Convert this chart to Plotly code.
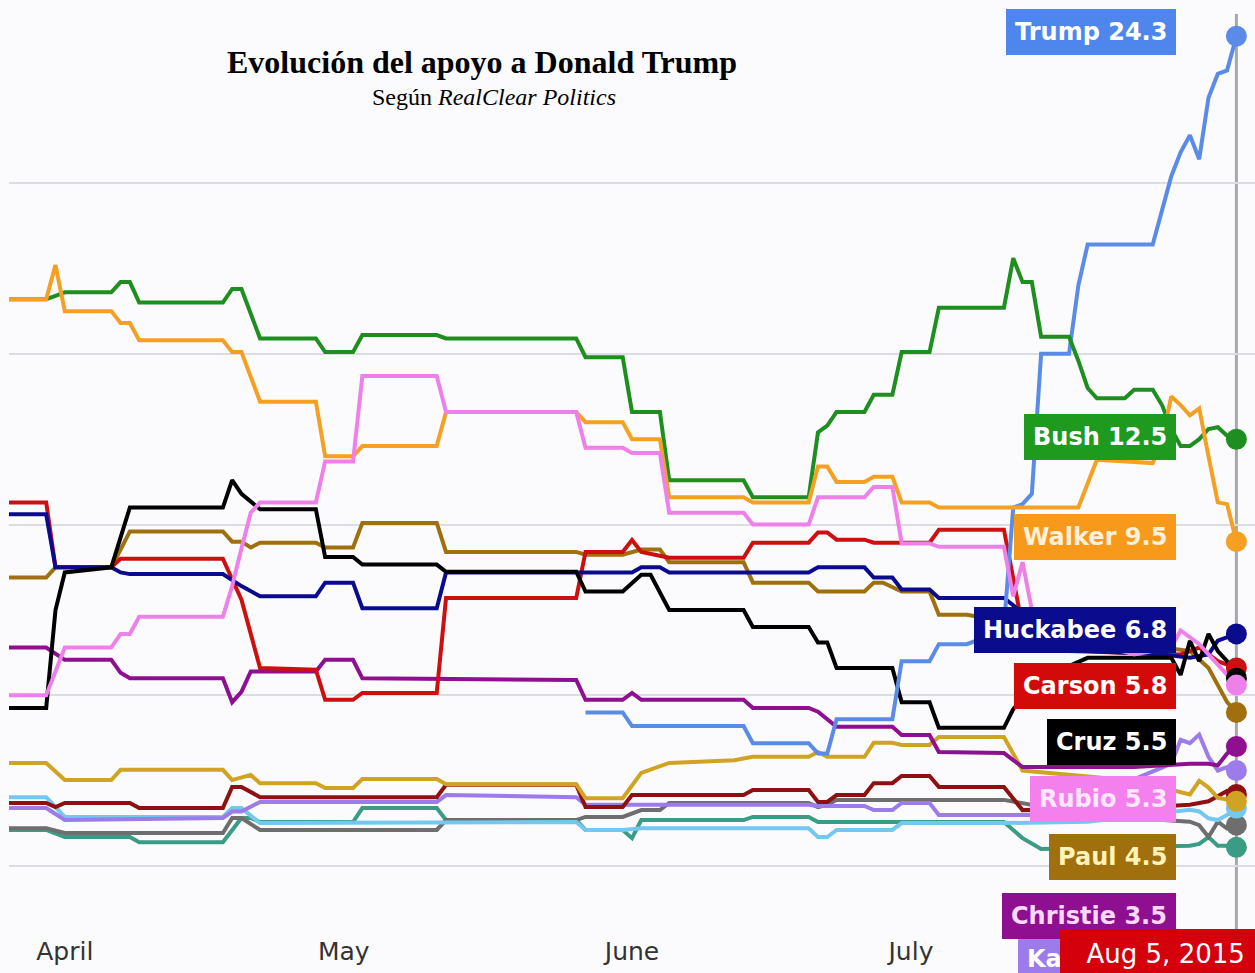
import plotly.graph_objects as go
import pandas as pd

# ---------------- data (RealClear Politics average, %) ----------------
trump_dates = ["2015-05-27","2015-05-31","2015-06-01","2015-06-13","2015-06-14","2015-06-20","2015-06-21","2015-06-22",
               "2015-06-23","2015-06-29","2015-06-30","2015-07-03","2015-07-04","2015-07-07","2015-07-10","2015-07-11",
               "2015-07-12","2015-07-13","2015-07-14","2015-07-15","2015-07-18","2015-07-19","2015-07-20","2015-07-27",
               "2015-07-28","2015-07-29","2015-07-30","2015-07-31","2015-08-01","2015-08-02","2015-08-03","2015-08-04",
               "2015-08-05"]
trump_values = [4.5,4.5,4.1,4.1,3.6,3.6,3.3,3.3,4.3,4.3,6.0,6.0,6.5,6.5,6.8,7.0,10.5,10.6,10.9,15.0,15.0,17.0,18.2,18.2,
                19.2,20.2,20.9,21.4,20.7,22.5,23.2,23.3,24.3]

bush_dates = ["2015-03-26","2015-03-30","2015-03-31","2015-04-01","2015-04-06","2015-04-07","2015-04-08","2015-04-09",
              "2015-04-18","2015-04-19","2015-04-20","2015-04-21","2015-04-22","2015-04-28","2015-04-29","2015-05-02",
              "2015-05-03","2015-05-11","2015-05-12","2015-05-26","2015-05-27","2015-05-31","2015-06-01","2015-06-04",
              "2015-06-05","2015-06-13","2015-06-14","2015-06-20","2015-06-21","2015-06-22","2015-06-23","2015-06-26",
              "2015-06-27","2015-06-29","2015-06-30","2015-07-03","2015-07-04","2015-07-11","2015-07-12","2015-07-13",
              "2015-07-14","2015-07-15","2015-07-18","2015-07-19","2015-07-20","2015-07-21","2015-07-24","2015-07-25",
              "2015-07-27","2015-07-28","2015-07-29","2015-07-30","2015-07-31","2015-08-01","2015-08-02","2015-08-03",
              "2015-08-04","2015-08-05"]
bush_values = [16.6,16.6,16.7,16.8,16.8,17.1,17.1,16.5,16.5,16.9,16.9,16.2,15.45,15.45,15.05,15.05,15.55,15.55,15.45,
               15.45,14.9,14.9,13.3,13.3,11.3,11.3,10.8,10.8,12.7,12.9,13.3,13.3,13.8,13.8,15.05,15.05,16.35,16.35,
               17.8,17.1,17.1,15.5,15.5,14.8,14.0,13.7,13.7,13.95,13.95,13.5,12.8,12.3,12.3,12.5,12.8,12.85,12.6,12.5]

walker_dates = ["2015-03-26","2015-03-30","2015-03-31","2015-04-01","2015-04-06","2015-04-07","2015-04-08","2015-04-09",
                "2015-04-18","2015-04-19","2015-04-20","2015-04-21","2015-04-22","2015-04-28","2015-04-29","2015-05-02",
                "2015-05-03","2015-05-11","2015-05-12","2015-05-26","2015-05-27","2015-05-31","2015-06-01","2015-06-04",
                "2015-06-05","2015-06-13","2015-06-14","2015-06-20","2015-06-21","2015-06-22","2015-06-23","2015-06-26",
                "2015-06-27","2015-06-29","2015-06-30","2015-07-03","2015-07-04","2015-07-19","2015-07-20","2015-07-21",
                "2015-07-27","2015-07-28","2015-07-29","2015-07-30","2015-07-31","2015-08-01","2015-08-02","2015-08-03",
                "2015-08-04","2015-08-05"]
walker_values = [16.6,16.6,17.6,16.25,16.25,15.9,15.9,15.4,15.4,15.05,15.05,14.3,13.6,13.6,12.0,12.0,12.3,12.3,13.3,13.3,
                 13.0,13.0,12.5,12.5,10.8,10.8,10.65,10.65,11.7,11.7,11.25,11.25,11.4,11.4,10.65,10.65,10.5,10.5,11.2,
                 11.9,11.8,12.5,13.75,13.5,13.2,13.4,12.0,10.65,10.6,9.5]

huckabee_dates = ["2015-03-26","2015-03-30","2015-03-31","2015-04-06","2015-04-07","2015-04-08","2015-04-18","2015-04-20",
                  "2015-04-22","2015-04-28","2015-04-29","2015-05-02","2015-05-03","2015-05-11","2015-05-12","2015-06-01",
                  "2015-06-02","2015-06-04","2015-06-05","2015-06-20","2015-06-21","2015-06-26","2015-06-27","2015-06-29",
                  "2015-06-30","2015-07-03","2015-07-04","2015-07-11","2015-07-15","2015-07-20","2015-07-28","2015-07-31",
                  "2015-08-02","2015-08-03","2015-08-05"]
huckabee_values = [10.3,10.3,8.75,8.75,8.6,8.55,8.55,8.2,7.9,7.9,8.3,8.3,7.55,7.55,8.6,8.6,8.75,8.75,8.6,8.6,8.75,8.75,
                   8.45,8.45,8.1,8.1,7.85,7.85,7.0,6.3,6.2,6.1,6.2,6.6,6.8]

carson_dates = ["2015-03-26","2015-03-30","2015-03-31","2015-04-06","2015-04-07","2015-04-18","2015-04-19","2015-04-20",
                "2015-04-21","2015-04-22","2015-04-28","2015-04-29","2015-05-02","2015-05-03","2015-05-11","2015-05-12",
                "2015-05-26","2015-05-27","2015-05-31","2015-06-01","2015-06-02","2015-06-04","2015-06-05","2015-06-13",
                "2015-06-14","2015-06-20","2015-06-21","2015-06-22","2015-06-23","2015-06-26","2015-06-27","2015-07-03",
                "2015-07-04","2015-07-11","2015-07-13","2015-07-18","2015-07-30","2015-08-01","2015-08-03","2015-08-05"]
carson_values = [10.65,10.65,8.75,8.75,9.0,9.0,8.4,7.8,6.8,5.8,5.75,4.87,4.87,5.07,5.07,7.85,7.85,9.2,9.2,9.55,9.2,9.1,
                 9.03,9.03,9.47,9.47,9.77,9.77,9.56,9.56,9.47,9.47,9.85,9.85,7.0,6.3,6.2,6.4,6.0,5.8]

cruz_dates = ["2015-03-26","2015-03-30","2015-03-31","2015-04-01","2015-04-06","2015-04-07","2015-04-08","2015-04-18",
              "2015-04-19","2015-04-20","2015-04-22","2015-04-28","2015-04-29","2015-05-02","2015-05-03","2015-05-11",
              "2015-05-12","2015-05-26","2015-05-27","2015-05-31","2015-06-02","2015-06-03","2015-06-05","2015-06-13",
              "2015-06-14","2015-06-20","2015-06-21","2015-06-22","2015-06-23","2015-06-29","2015-06-30","2015-07-03",
              "2015-07-04","2015-07-11","2015-07-12","2015-07-15","2015-07-20","2015-07-29","2015-07-30","2015-07-31",
              "2015-08-01","2015-08-02","2015-08-03","2015-08-04","2015-08-05"]
cruz_values = [4.63,4.63,7.5,8.6,8.75,9.6,10.5,10.5,11.3,10.9,10.45,10.45,9.05,9.05,8.83,8.83,8.62,8.62,8.04,8.04,8.53,
               8.53,7.5,7.5,7.0,7.0,6.55,6.55,5.8,5.8,4.8,4.8,4.05,4.05,4.6,5.5,6.1,6.1,5.6,6.6,6.0,6.8,6.3,6.0,5.5]

rubio_dates = ["2015-03-26","2015-03-30","2015-03-31","2015-04-01","2015-04-06","2015-04-07","2015-04-08","2015-04-09",
               "2015-04-18","2015-04-19","2015-04-20","2015-04-21","2015-04-22","2015-04-28","2015-04-29","2015-05-02",
               "2015-05-03","2015-05-11","2015-05-12","2015-05-26","2015-05-27","2015-05-31","2015-06-01","2015-06-04",
               "2015-06-05","2015-06-13","2015-06-14","2015-06-20","2015-06-21","2015-06-26","2015-06-27","2015-06-29",
               "2015-06-30","2015-07-03","2015-07-04","2015-07-11","2015-07-12","2015-07-13","2015-07-14","2015-07-17",
               "2015-07-25","2015-07-29","2015-07-30","2015-08-01","2015-08-03","2015-08-05"]
rubio_values = [5.0,5.0,5.7,6.4,6.4,6.8,6.8,7.3,7.3,8.2,9.3,10.35,10.65,10.65,11.85,11.85,14.35,14.35,13.3,13.3,12.25,
                12.25,12.1,12.1,10.35,10.35,10.0,10.0,10.8,10.8,11.1,11.1,9.45,9.45,9.35,9.35,7.9,8.9,7.5,6.8,6.2,6.4,
                6.9,6.5,5.9,5.3]

paul_dates = ["2015-03-26","2015-03-30","2015-03-31","2015-04-06","2015-04-07","2015-04-08","2015-04-18","2015-04-19",
              "2015-04-20","2015-04-21","2015-04-22","2015-04-28","2015-04-29","2015-05-02","2015-05-03","2015-05-11",
              "2015-05-12","2015-05-26","2015-05-27","2015-05-31","2015-06-02","2015-06-04","2015-06-05","2015-06-13",
              "2015-06-14","2015-06-20","2015-06-21","2015-06-26","2015-06-27","2015-06-28","2015-06-30","2015-07-03",
              "2015-07-04","2015-07-07","2015-07-15","2015-07-25","2015-07-31","2015-08-02","2015-08-04","2015-08-05"]
paul_values = [8.45,8.45,8.75,8.75,9.27,9.8,9.8,9.5,9.5,9.33,9.47,9.47,9.33,9.33,10.05,10.05,9.2,9.2,9.12,9.12,9.27,
               9.27,8.9,8.9,8.3,8.3,8.04,8.04,8.3,8.3,8.04,8.04,7.36,7.36,7.0,6.5,6.3,5.8,4.8,4.5]

christie_dates = ["2015-03-26","2015-03-30","2015-04-01","2015-04-06","2015-04-07","2015-04-08","2015-04-18","2015-04-19",
                  "2015-04-20","2015-04-21","2015-04-28","2015-04-29","2015-05-02","2015-05-03","2015-05-26","2015-05-27",
                  "2015-05-31","2015-06-01","2015-06-02","2015-06-13","2015-06-14","2015-06-20","2015-06-21","2015-06-23",
                  "2015-06-29","2015-06-30","2015-07-03","2015-07-04","2015-07-11","2015-07-13","2015-07-25","2015-07-31",
                  "2015-08-02","2015-08-03","2015-08-04","2015-08-05"]
christie_values = [6.4,6.4,6.04,6.04,5.66,5.5,5.5,4.8,5.1,5.7,5.7,6.04,6.04,5.5,5.45,4.87,4.87,5.07,4.87,4.87,4.63,4.63,
                   4.52,4.08,4.08,3.84,3.84,3.34,3.31,2.9,2.9,3.0,3.0,2.95,3.3,3.5]

kasich_dates = ["2015-03-26","2015-03-30","2015-04-01","2015-04-18","2015-04-19","2015-04-20","2015-04-22","2015-05-11",
                "2015-05-12","2015-05-26","2015-05-27","2015-06-20","2015-06-21","2015-06-26","2015-06-27","2015-06-29",
                "2015-06-30","2015-07-03","2015-07-04","2015-07-20","2015-07-22","2015-07-29","2015-07-30","2015-07-31",
                "2015-08-01","2015-08-02","2015-08-03","2015-08-04","2015-08-05"]
kasich_values = [1.7,1.7,1.35,1.41,1.6,1.6,1.88,1.88,2.08,2.02,1.8,1.8,1.76,1.76,1.64,1.64,1.85,1.85,1.5,1.5,2.2,3.0,
                 3.7,3.6,3.85,3.2,2.8,2.9,2.8]

perry_dates = ["2015-03-26","2015-03-30","2015-04-01","2015-04-06","2015-04-07","2015-04-18","2015-04-19","2015-04-21",
               "2015-04-22","2015-04-28","2015-04-29","2015-05-02","2015-05-03","2015-05-11","2015-05-12","2015-05-26",
               "2015-05-27","2015-05-31","2015-06-02","2015-06-05","2015-06-12","2015-06-14","2015-06-20","2015-06-21",
               "2015-06-22","2015-06-26","2015-06-27","2015-06-29","2015-06-30","2015-07-03","2015-07-04","2015-07-11",
               "2015-07-13","2015-07-25","2015-07-31","2015-08-01","2015-08-02","2015-08-03","2015-08-04","2015-08-05"]
perry_values = [3.02,3.02,2.52,2.52,2.82,2.82,2.52,2.67,2.43,2.43,2.29,2.29,2.55,2.55,2.4,2.4,1.99,1.99,2.73,3.02,3.1,
                3.2,3.2,3.34,3.2,3.2,3.61,3.61,3.55,3.55,3.78,3.78,2.8,2.5,2.1,2.5,2.3,2.0,1.95,1.9]

santorum_dates = ["2015-03-26","2015-03-30","2015-03-31","2015-04-01","2015-04-08","2015-04-09","2015-04-18","2015-04-19",
                  "2015-04-20","2015-04-22","2015-05-11","2015-05-12","2015-05-26","2015-05-27","2015-05-31","2015-06-01",
                  "2015-06-13","2015-06-14","2015-06-20","2015-06-21","2015-06-22","2015-06-23","2015-06-26","2015-06-27",
                  "2015-06-29","2015-06-30","2015-07-03","2015-07-04","2015-07-11","2015-07-13","2015-07-25","2015-07-31",
                  "2015-08-02","2015-08-04","2015-08-05"]
santorum_values = [1.85,1.85,1.73,1.85,1.85,1.7,1.7,2.32,2.32,2.02,2.02,2.38,2.38,1.73,1.73,2.08,2.08,2.23,2.23,1.88,
                   1.88,2.08,2.08,2.43,2.43,2.64,2.64,2.32,2.32,1.64,1.7,1.8,1.9,2.2,2.1]

fiorina_dates = ["2015-03-26","2015-03-30","2015-04-01","2015-04-18","2015-04-19","2015-04-20","2015-04-22","2015-05-26",
                 "2015-05-27","2015-05-31","2015-06-02","2015-06-20","2015-06-21","2015-06-22","2015-06-23","2015-06-29",
                 "2015-06-30","2015-07-11","2015-07-20","2015-07-31","2015-08-01","2015-08-02","2015-08-03","2015-08-04",
                 "2015-08-05"]
fiorina_values = [2.02,2.02,1.44,1.44,1.7,1.7,1.26,1.29,1.06,1.06,1.11,1.11,0.85,0.85,1.06,1.06,1.26,1.26,1.3,1.65,1.6,
                  1.4,1.35,1.5,1.7]

jindal_dates = ["2015-03-26","2015-03-30","2015-04-01","2015-04-18","2015-04-19","2015-04-20","2015-04-22","2015-05-11",
                "2015-05-12","2015-05-26","2015-05-27","2015-05-31","2015-06-02","2015-06-04","2015-06-05","2015-06-20",
                "2015-06-21","2015-06-22","2015-06-23","2015-07-11","2015-07-20","2015-07-31","2015-08-01","2015-08-02",
                "2015-08-03","2015-08-04","2015-08-05"]
jindal_values = [1.11,1.11,0.97,0.97,1.41,1.41,1.06,1.06,1.35,1.35,1.44,1.44,1.64,1.64,1.85,1.85,1.73,1.8,1.94,1.94,
                 1.5,1.3,1.2,0.85,1.3,1.1,1.2]

graham_dates = ["2015-03-26","2015-03-30","2015-04-01","2015-04-08","2015-04-09","2015-04-18","2015-04-20","2015-04-21",
                "2015-04-22","2015-05-02","2015-05-03","2015-05-11","2015-05-12","2015-05-26","2015-05-27","2015-05-31",
                "2015-06-01","2015-06-02","2015-06-13","2015-06-14","2015-06-20","2015-06-21","2015-07-11","2015-07-13",
                "2015-07-15","2015-07-31","2015-08-01","2015-08-02","2015-08-03","2015-08-04","2015-08-05"]
graham_values = [1.06,1.06,0.85,0.85,0.7,0.7,1.41,1.41,1.29,1.29,1.7,1.7,1.35,1.35,1.06,1.06,0.82,1.35,1.35,1.44,1.44,
                 1.29,1.29,0.82,0.5,0.6,0.65,0.85,0.6,0.6,0.55]

month_ticks = ["2015-04-01", "2015-05-01", "2015-06-01", "2015-07-01"]
month_labels = ["April", "May", "June", "July"]

# ---------------- styling ----------------
# name, dates, values, line colour, label colour, label text colour
series = [
    ("Graham", graham_dates, graham_values, "#3A9C84", None, None),
    ("Jindal", jindal_dates, jindal_values, "#6E6E6E", None, None),
    ("Fiorina", fiorina_dates, fiorina_values, "#74C7EE", None, None),
    ("Kasich", kasich_dates, kasich_values, "#9C7BEA", "#9C7BEA", "#FFFFFF"),
    ("Santorum", santorum_dates, santorum_values, "#8E1010", None, None),
    ("Perry", perry_dates, perry_values, "#D0A322", None, None),
    ("Christie", christie_dates, christie_values, "#8E1090", "#8E1090", "#FFD8FF"),
    ("Paul", paul_dates, paul_values, "#A0700F", "#A0700F", "#FFF3B8"),
    ("Carson", carson_dates, carson_values, "#CC1010", "#D30A0A", "#FFFFFF"),
    ("Huckabee", huckabee_dates, huckabee_values, "#0B0B8E", "#0B0B8E", "#FFFFFF"),
    ("Cruz", cruz_dates, cruz_values, "#000000", "#000000", "#FFFFFF"),
    ("Trump", trump_dates, trump_values, "#5A8BE6", "#4F86EE", "#FFFFFF"),
    ("Bush", bush_dates, bush_values, "#1E8F1E", "#1E9A1E", "#FFFFFF"),
    ("Walker", walker_dates, walker_values, "#F5A023", "#F79A1C", "#FFF0D8"),
    ("Rubio", rubio_dates, rubio_values, "#EE80EA", "#F480EE", "#FFE8FF"),
]

# label box centre heights (paper fraction of plot height) and right edge (paper)
label_y = {"Trump": 0.966, "Bush": 0.530, "Walker": 0.4226, "Huckabee": 0.3226, "Carson": 0.2624,
           "Cruz": 0.2022, "Rubio": 0.1409, "Paul": 0.0785, "Christie": 0.0151, "Kasich": -0.031}
label_right = 0.9366

fig = go.Figure()
for name, d, v, col, _, _ in series:
    fig.add_trace(go.Scatter(x=pd.to_datetime(d), y=v, mode="lines", name=name,
                             line=dict(color=col, width=4), hoverinfo="skip"))
for name, d, v, col, _, _ in series:
    fig.add_trace(go.Scatter(x=[pd.to_datetime(d[-1])], y=[v[-1]], mode="markers", name=name,
                             marker=dict(color=col, size=21), hoverinfo="skip"))

last_date = pd.to_datetime(trump_dates[-1])

annotations = [
    dict(text="<b>Evolución del apoyo a Donald Trump</b>", xref="paper", yref="paper",
         x=0.3796, y=0.9333, xanchor="center", yanchor="middle", showarrow=False,
         font=dict(family="Liberation Serif", size=32, color="#000000")),
    dict(text="Según <i>RealClear Politics</i>", xref="paper", yref="paper",
         x=0.3892, y=0.8955, xanchor="center", yanchor="middle", showarrow=False,
         font=dict(family="Liberation Serif", size=24, color="#000000")),
]
for name, d, v, col, lab_col, txt_col in series:
    if lab_col is None:
        continue
    annotations.append(dict(
        text=f"<b>{name} {v[-1]}</b>", xref="paper", yref="paper", x=label_right, y=label_y[name],
        xanchor="right", yanchor="middle", showarrow=False, bgcolor=lab_col, bordercolor=lab_col,
        borderwidth=1, borderpad=8, font=dict(family="DejaVu Sans", size=24, color=txt_col)))

annotations.append(dict(
    text="\u00a0\u00a0" + last_date.strftime("%b ") + str(last_date.day) + last_date.strftime(", %Y"),
    xref="paper", yref="paper", x=1.0, y=-0.0258, xanchor="right", yanchor="middle", showarrow=False,
    bgcolor="#D4000C", bordercolor="#D4000C", borderpad=9,
    font=dict(family="DejaVu Sans", size=26, color="#FFFFFF")))

fig.update_layout(
    width=1255, height=973,
    margin=dict(l=9, r=0, t=0, b=43),
    paper_bgcolor="#FBFBFE", plot_bgcolor="#FBFBFE",
    showlegend=False,
    annotations=annotations,
    shapes=[dict(type="line", xref="x", yref="paper", x0=last_date, x1=last_date, y0=-0.02, y1=0.985,
                 line=dict(color="#A8A8A8", width=3), layer="below")],
    xaxis=dict(type="date", range=["2015-03-26", "2015-08-07"], tickvals=month_ticks, ticktext=month_labels,
               showgrid=False, zeroline=False, showline=False, ticks="", ticklabelstandoff=4,
               tickfont=dict(family="DejaVu Sans", size=25, color="#333333")),
    yaxis=dict(range=[-1.87, 25.36], tickvals=[0, 5, 10, 15, 20], showticklabels=False,
               showgrid=True, gridcolor="#DCDCE4", gridwidth=2, zeroline=False, showline=False),
)

fig.write_html("out.html", config={"displayModeBar": False},
               post_script="document.body.style.margin='0';document.body.style.overflow='hidden';")
